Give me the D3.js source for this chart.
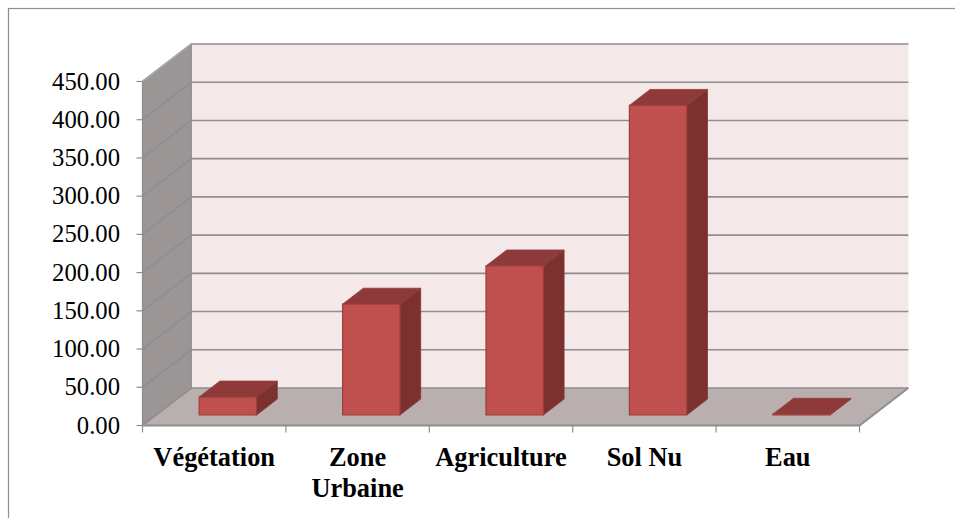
<!DOCTYPE html>
<html>
<head>
<meta charset="utf-8">
<script src="https://cdn.jsdelivr.net/npm/d3@7"></script>
<style>
html,body{margin:0;padding:0;background:#fff}
svg{display:block}
text{font-family:"Liberation Serif","Times New Roman",serif;fill:#000}
</style>
</head>
<body>
<svg id="chart" width="955" height="518"></svg>
<script>
const categories = ["Végétation", "Zone|Urbaine", "Agriculture", "Sol Nu", "Eau"];
const values = [23.5, 145, 195, 405, 1];
const yTicks = [0, 50, 100, 150, 200, 250, 300, 350, 400, 450];

const svg = d3.select("#chart");
const x = d3.scaleBand().domain(categories).range([142.5, 859.5]).paddingInner(0).paddingOuter(0);
const y = d3.scaleLinear().domain([0, 450]).range([425.5, 81.5]);

// Oblique projection: depth 0 is the front plane, depth 1 the back wall.
const depthX = 48.8, depthY = -37.5;
const px = (xv, d) => xv + d * depthX;
const py = (v, d) => y(v) + d * depthY;
const pt = (xv, v, d) => [px(xv, d), py(v, d)];
const poly = pts => pts.map(p => p.join(",")).join(" ");

const x0 = x.range()[0], x1 = x.range()[1];

// Outer frame runs past the right and bottom of the page
svg.append("rect").attr("x", 8.5).attr("y", 8.5).attr("width", 960).attr("height", 530)
  .attr("fill", "#fff").attr("stroke", "#8f8f8f").attr("stroke-width", 1.2);

// Back wall, side wall and floor
svg.append("polygon").attr("points", poly([pt(x0,0,1), pt(x0,450,1), pt(x1,450,1), pt(x1,0,1)]))
  .attr("fill", "#f4e8e8");
svg.append("polygon").attr("points", poly([pt(x0,0,0), pt(x0,450,0), pt(x0,450,1), pt(x0,0,1)]))
  .attr("fill", "#9b9595");
svg.append("polygon").attr("points", poly([pt(x0,0,0), pt(x1,0,0), pt(x1,0,1), pt(x0,0,1)]))
  .attr("fill", "#b9afaf");

// Gridlines run across the back wall and down the side wall
const grid = svg.append("g").attr("fill", "none").attr("stroke", "#8e8e8e");
yTicks.forEach(t => {
  grid.append("polyline").attr("points", poly([pt(x0,t,0), pt(x0,t,1), pt(x1,t,1)]))
    .attr("stroke-width", 1.6);
});
grid.append("line").attr("x1", px(x0,1)).attr("y1", py(0,1)).attr("x2", px(x0,1)).attr("y2", py(450,1)).attr("stroke-width", 1.2);
grid.append("line").attr("x1", px(x0,0)).attr("y1", py(0,0)).attr("x2", px(x0,0)).attr("y2", py(450,0)).attr("stroke-width", 1.2);
grid.append("polyline").attr("points", poly([pt(x0,450,0), pt(x0,450,1), pt(x1,450,1)])).attr("stroke", "#a8a8a8").attr("stroke-width", 1.6);
grid.append("polyline").attr("points", poly([pt(x0,0,0), pt(x1,0,0), pt(x1,0,1)])).attr("stroke-width", 2);

// Axis ticks on the left edge and below the floor
const yAxis = svg.append("g");
yTicks.forEach(t => {
  yAxis.append("line").attr("x1", x0 - 6).attr("x2", x0).attr("y1", y(t)).attr("y2", y(t))
    .attr("stroke", "#8e8e8e").attr("stroke-width", 1.2);
  yAxis.append("text").attr("x", 120).attr("y", y(t) + 8).attr("text-anchor", "end")
    .attr("font-size", 24.7).attr("fill", "#111").text(d3.format(".2f")(t));
});
const xEdges = categories.map(c => x(c)).concat([x1]);
svg.append("g").selectAll("line").data(xEdges).join("line")
  .attr("x1", d => d).attr("x2", d => d).attr("y1", y(0)).attr("y2", y(0) + 7)
  .attr("stroke", "#8e8e8e").attr("stroke-width", 1.2);

// Category labels, wrapped on the "|" separator
const labels = svg.append("g");
categories.forEach(c => {
  const cx = x(c) + x.bandwidth() / 2;
  c.split("|").forEach((line, i) => {
    labels.append("text").attr("x", cx).attr("y", 466 + i * 31).attr("text-anchor", "middle")
      .attr("font-size", 26.4).attr("font-weight", "bold").text(line);
  });
});

// Bars as three-faced boxes standing on the floor
const barFrac = 0.4, dFront = 0.28, dBack = 0.705;
const bars = svg.append("g");
categories.forEach((c, i) => {
  const v = values[i];
  const w = x.bandwidth() * barFrac;
  const a = x(c) + (x.bandwidth() - w) / 2, b = a + w;
  const g = bars.append("g");
  g.append("polygon").attr("points", poly([pt(b,0,dFront), pt(b,v,dFront), pt(b,v,dBack), pt(b,0,dBack)]))
    .attr("fill", "#7c3030").attr("stroke", "#843535").attr("stroke-width", 0.8);
  g.append("polygon").attr("points", poly([pt(a,v,dFront), pt(b,v,dFront), pt(b,v,dBack), pt(a,v,dBack)]))
    .attr("fill", "#8f3a3a").attr("stroke", "#8f3a3a").attr("stroke-width", 0.8);
  g.append("polygon").attr("points", poly([pt(a,0,dFront), pt(b,0,dFront), pt(b,v,dFront), pt(a,v,dFront)]))
    .attr("fill", "#c0504d").attr("stroke", "#9c3f3d").attr("stroke-width", 1.2);
});
</script>
</body>
</html>
